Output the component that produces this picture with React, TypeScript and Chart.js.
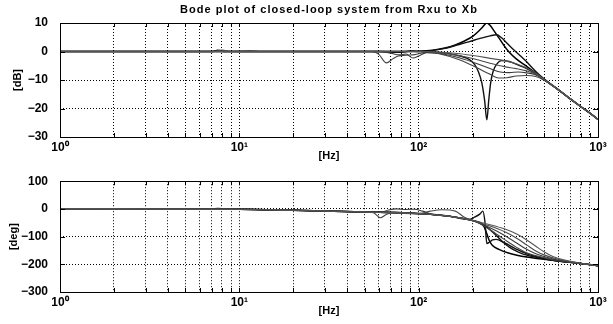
import React, { useEffect, useRef } from 'react';
import { Chart, registerables } from 'chart.js';

Chart.register(...registerables);

const TITLE = 'Bode plot of closed-loop system from Rxu to Xb';
const X_LABEL = '[Hz]';
const MAG_LABEL = '[dB]';
const PHASE_LABEL = '[deg]';

const X_DECADES = [1, 10, 100, 1000];
const X_DECADE_LABELS = ['10⁰', '10¹', '10²', '10³'];
const MAG_RANGE = [-30, 10];
const MAG_STEP = 10;
const PHASE_RANGE = [-300, 100];
const PHASE_STEP = 100;

// Magnitude curves [Hz, dB]
const magA: [number, number][] = [
  [1, 0], [7, 0], [7.6, 0.4], [8.3, 0], [20, 0], [50, 0], [100, 0.1], [120, 0.4], [140, 1.2],
  [160, 2.3], [180, 3.7], [200, 5.3], [215, 7], [228, 8.7], [240, 10], [250, 9.2], [262, 7.4],
  [280, 4.8], [300, 2], [320, -0.3], [350, -2.6], [400, -5.2], [450, -7.6], [500, -9.8],
  [560, -12], [630, -14.4], [700, -16.6], [800, -19.3], [900, -21.6], [1000, -23.8],
];
const magB: [number, number][] = [
  [1, 0], [20, 0], [60, 0], [80, -0.3], [90, 0.2], [100, 0], [120, 0.4], [140, 1.1], [160, 2.1],
  [190, 3.4], [220, 4.6], [250, 5.5], [272, 5.9], [290, 4.8], [310, 3], [340, 0.5], [370, -1.6],
  [400, -3.6], [450, -7], [500, -9.6], [560, -12], [630, -14.4], [700, -16.6], [800, -19.3],
  [900, -21.6], [1000, -23.8],
];
const magC: [number, number][] = [
  [1, 0], [20, 0], [100, 0], [130, -0.3], [160, -1.2], [190, -2.7], [205, -4.5], [215, -7],
  [225, -11], [233, -17], [240, -24], [246, -17], [252, -11], [260, -7], [272, -4.5], [290, -3.2],
  [320, -3.5], [360, -4.8], [400, -6], [450, -7.8], [500, -9.8], [560, -12], [630, -14.4],
  [700, -16.6], [800, -19.3], [900, -21.6], [1000, -23.8],
];
const magD1: [number, number][] = [
  [1, 0], [100, 0], [130, -0.2], [170, -0.8], [210, -1.6], [250, -2.4], [300, -3.2], [350, -4.3],
  [400, -5.8], [450, -7.6], [500, -9.8], [560, -12], [630, -14.4], [700, -16.6], [800, -19.3],
  [900, -21.6], [1000, -23.8],
];
const magD2: [number, number][] = [
  [1, 0], [7, 0], [8, 0.5], [9, 0], [11.5, 0.3], [13, 0], [100, 0], [130, -0.4], [170, -1.5],
  [210, -2.8], [250, -4.1], [300, -5.3], [350, -6], [400, -6.8], [450, -7.9], [500, -9.8],
  [560, -12], [630, -14.4], [700, -16.6], [800, -19.3], [900, -21.6], [1000, -23.8],
];
const magD3: [number, number][] = [
  [1, 0], [60, 0], [70, -0.6], [78, -1.2], [85, -0.9], [93, -2.3], [100, -1.6], [111, -0.4],
  [130, -0.6], [170, -2.3], [210, -4.2], [250, -6], [285, -7.2], [320, -7.4], [360, -7.2],
  [400, -7.5], [450, -8.2], [500, -9.9], [560, -12], [630, -14.4], [700, -16.6], [800, -19.3],
  [900, -21.6], [1000, -23.8],
];
const magD4: [number, number][] = [
  [1, 0], [55, 0], [60, -1], [66, -4], [72, -2.5], [77, -1.6], [85, -1.3], [95, -1.1], [110, -0.3],
  [130, -0.8], [170, -3], [210, -5.6], [250, -8], [280, -9.3], [310, -9.2], [350, -8.6],
  [400, -8.4], [450, -8.8], [500, -10.1], [560, -12.1], [630, -14.4], [700, -16.6], [800, -19.3],
  [900, -21.6], [1000, -23.8],
];

// Phase curves [Hz, deg]
const phA: [number, number][] = [
  [1, 0], [7, -0.5], [7.6, 1], [8.3, -0.5], [10, -1], [20, -5], [50, -11], [100, -17], [150, -27],
  [200, -42], [220, -50], [232, -65], [240, -90], [248, -115], [258, -132], [280, -146],
  [320, -160], [400, -174], [500, -182], [600, -188], [700, -193], [800, -197], [900, -201],
  [1000, -205],
];
const phB: [number, number][] = [
  [1, 0], [10, -1], [20, -5], [50, -11], [100, -17], [150, -27], [200, -42], [230, -58],
  [260, -85], [290, -115], [320, -138], [360, -156], [400, -167], [500, -180], [600, -188],
  [700, -193], [800, -197], [900, -201], [1000, -205],
];
const phC: [number, number][] = [
  [1, 0], [10, -1], [20, -5], [50, -11], [100, -17], [150, -27], [190, -38], [205, -30],
  [220, -18], [228, -8], [234, -45], [240, -125], [248, -120], [258, -112], [270, -110],
  [300, -122], [350, -145], [400, -162], [500, -179], [600, -188], [700, -193], [800, -197],
  [900, -201], [1000, -205],
];
const phD1: [number, number][] = [
  [1, 0], [10, -1], [20, -5], [50, -11], [100, -17], [150, -27], [200, -42], [250, -57],
  [300, -72], [350, -90], [400, -112], [450, -135], [500, -155], [560, -172], [650, -185],
  [800, -196], [1000, -205],
];
const phD2: [number, number][] = [
  [1, 0], [10, -1], [20, -5], [50, -11], [100, -17], [116, -8], [135, -3], [160, -8], [180, -30],
  [200, -42], [250, -62], [300, -82], [350, -105], [400, -130], [450, -152], [500, -166],
  [600, -182], [800, -196], [1000, -205],
];
const phD3: [number, number][] = [
  [1, 0], [10, -1], [20, -5], [50, -11], [62, -12], [68, -4], [75, 0], [85, -2], [95, -1],
  [105, -8], [120, -20], [150, -27], [200, -42], [250, -68], [300, -95], [350, -122],
  [400, -146], [450, -162], [500, -172], [600, -185], [800, -197], [1000, -205],
];
const phD4: [number, number][] = [
  [1, 0], [10, -1], [20, -5], [50, -11], [56, -14], [61, -32], [66, -20], [72, -12], [100, -17],
  [150, -27], [200, -42], [250, -75], [300, -110], [350, -138], [400, -158], [500, -176],
  [600, -187], [800, -198], [1000, -206],
];

const MAG_SERIES = [magD1, magD2, magD3, magD4, magB, magC, magA];
const PHASE_SERIES = [phD1, phD2, phD3, phD4, phB, phC, phA];
const SERIES_COLORS = ['#555', '#4a4a4a', '#3a3a3a', '#444', '#111', '#111', '#000'];
const SERIES_WIDTHS = [1.1, 1.1, 1.1, 1.1, 1.4, 1.4, 1.5];

const FONT_FAMILY = '"Liberation Sans", Arial, sans-serif';

function gridTicks(): number[] {
  const out: number[] = [];
  for (let d = 0; d < X_DECADES.length - 1; d++) {
    for (let m = 1; m <= 9; m++) out.push(X_DECADES[d] * m);
  }
  out.push(X_DECADES[X_DECADES.length - 1]);
  return out;
}

function decorPlugin(opts: { title?: string; yLabel: string; yLabelX: number }) {
  return {
    id: 'decor',
    afterDraw(chart: any) {
      const { ctx, chartArea: a } = chart;
      ctx.save();
      ctx.strokeStyle = '#000';
      ctx.lineWidth = 1;
      ctx.setLineDash([]);
      ctx.strokeRect(Math.round(a.left) + 0.5, Math.round(a.top) + 0.5, Math.round(a.right - a.left), Math.round(a.bottom - a.top));
      const xs = chart.scales.x;
      const ys = chart.scales.y;
      ctx.beginPath();
      xs.ticks.forEach((t: any) => {
        const px = Math.round(xs.getPixelForValue(t.value)) + 0.5;
        ctx.moveTo(px, a.top); ctx.lineTo(px, a.top + 4);
        ctx.moveTo(px, a.bottom); ctx.lineTo(px, a.bottom - 4);
      });
      ys.ticks.forEach((t: any) => {
        const py = Math.round(ys.getPixelForValue(t.value)) + 0.5;
        ctx.moveTo(a.left, py); ctx.lineTo(a.left + 5, py);
        ctx.moveTo(a.right, py); ctx.lineTo(a.right - 5, py);
      });
      ctx.stroke();
      ctx.fillStyle = '#000';
      ctx.textAlign = 'center';
      ctx.textBaseline = 'middle';
      const cx = (a.left + a.right) / 2;
      if (opts.title) {
        ctx.font = `bold 11px ${FONT_FAMILY}`;
        (ctx as any).letterSpacing = '1px';
        ctx.fillText(opts.title, cx, 10);
        (ctx as any).letterSpacing = '0px';
      }
      ctx.font = `bold 11px ${FONT_FAMILY}`;
      ctx.fillText(X_LABEL, cx, a.bottom + 19);
      ctx.translate(opts.yLabelX, (a.top + a.bottom) / 2);
      ctx.rotate(-Math.PI / 2);
      ctx.fillText(opts.yLabel, 0, 0);
      ctx.restore();
    },
  };
}

function makeChart(
  canvas: HTMLCanvasElement,
  series: [number, number][][],
  range: number[],
  step: number,
  padTop: number,
  xAxisHeight: number,
  plugin: any,
) {
  const ticksX = gridTicks();
  const tickFont = { family: FONT_FAMILY, size: 12, weight: 'bold' as const };
  return new Chart(canvas, {
    type: 'line',
    data: {
      datasets: series.map((s, i) => ({
        data: s.map(([x, y]) => ({ x, y })),
        borderColor: SERIES_COLORS[i],
        borderWidth: SERIES_WIDTHS[i],
        pointRadius: 0,
        fill: false,
        cubicInterpolationMode: 'monotone' as const,
      })),
    },
    options: {
      animation: false,
      responsive: false,
      devicePixelRatio: 1,
      events: [],
      layout: { padding: { left: 0, right: 15, top: padTop, bottom: 0 } },
      plugins: { legend: { display: false }, tooltip: { enabled: false }, title: { display: false } },
      scales: {
        x: {
          type: 'logarithmic',
          min: X_DECADES[0],
          max: X_DECADES[X_DECADES.length - 1],
          afterBuildTicks: (s: any) => {
            s.ticks = ticksX.map((v) => ({ value: v }));
          },
          afterFit: (s: any) => {
            s.height = xAxisHeight;
          },
          ticks: {
            autoSkip: false,
            maxRotation: 0,
            minRotation: 0,
            padding: 3,
            color: '#000',
            font: tickFont,
            callback: (v: any) => {
              const i = X_DECADES.findIndex((d) => Math.abs(d - Number(v)) < 1e-9);
              return i >= 0 ? X_DECADE_LABELS[i] : '';
            },
          },
          grid: { color: '#000', lineWidth: 1, drawTicks: false },
          border: { display: false, dash: [1, 2] },
        },
        y: {
          type: 'linear',
          min: range[0],
          max: range[1],
          afterFit: (s: any) => {
            s.width = 60;
          },
          ticks: {
            stepSize: step,
            padding: 12,
            color: '#000',
            font: tickFont,
            callback: (v: any) => (Number(v) < 0 ? '−' + Math.abs(Number(v)) : String(v)),
          },
          grid: { color: '#000', lineWidth: 1, drawTicks: false },
          border: { display: false, dash: [1, 2] },
        },
      },
    },
    plugins: [plugin],
  } as any);
}

export default function App() {
  const magRef = useRef<HTMLCanvasElement>(null);
  const phRef = useRef<HTMLCanvasElement>(null);

  useEffect(() => {
    const c1 = makeChart(
      magRef.current!, MAG_SERIES, MAG_RANGE, MAG_STEP, 23, 25,
      decorPlugin({ title: TITLE, yLabel: MAG_LABEL, yLabelX: 18 }),
    );
    const c2 = makeChart(
      phRef.current!, PHASE_SERIES, PHASE_RANGE, PHASE_STEP, 16, 32,
      decorPlugin({ yLabel: PHASE_LABEL, yLabelX: 14 }),
    );
    return () => {
      c1.destroy();
      c2.destroy();
    };
  }, []);

  return (
    <div style={{ position: 'absolute', left: 0, top: 0, width: 613, height: 324, background: '#fff' }}>
      <canvas ref={magRef} width={613} height={162} style={{ position: 'absolute', left: 0, top: 0, display: 'block' }} />
      <canvas ref={phRef} width={613} height={162} style={{ position: 'absolute', left: 0, top: 162, display: 'block' }} />
    </div>
  );
}
